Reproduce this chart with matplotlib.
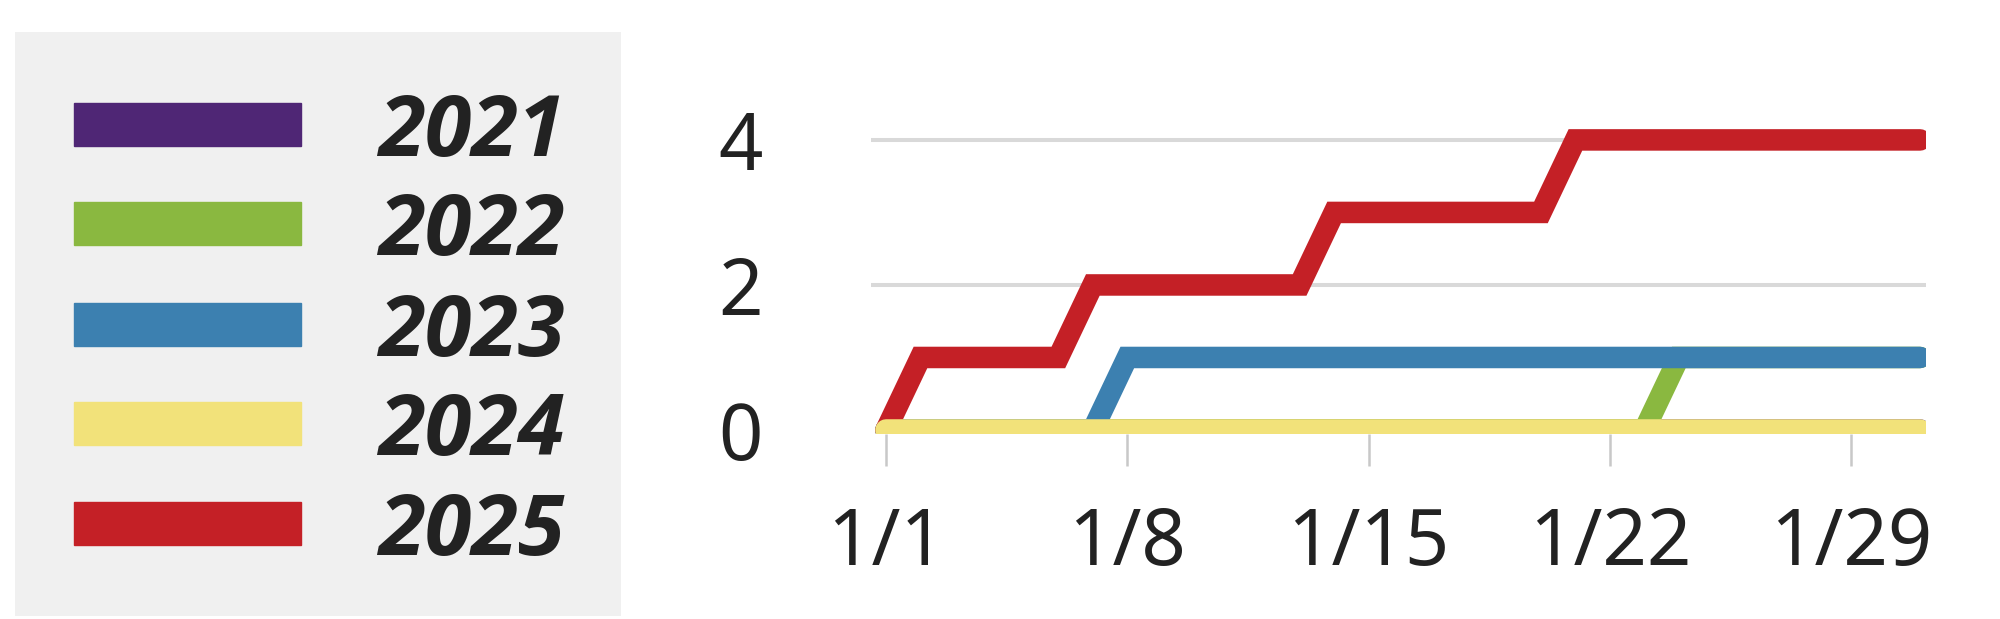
import matplotlib.pyplot as plt
from matplotlib.patches import Rectangle

plt.rcParams["font.family"] = ["Noto Sans", "DejaVu Sans"]

# day of January, 1..31
days = list(range(1, 32))

years = ["2021", "2022", "2023", "2024", "2025"]
colors = ["#4f2675", "#8ab840", "#3c80b0", "#f2e27a", "#c42026"]

# cumulative counts per day
y2021 = [0] * 31
y2022 = [0] * 23 + [1] * 8
y2023 = [0] * 7 + [1] * 24
y2024 = [0] * 31
y2025 = [0] + [1] * 5 + [2] * 7 + [3] * 7 + [4] * 11

series = dict(zip(years, [y2021, y2022, y2023, y2024, y2025]))

xticks = [1, 8, 15, 22, 29]
xtick_labels = ["1/1", "1/8", "1/15", "1/22", "1/29"]
yticks = [0, 2, 4]

fig = plt.figure(figsize=(20, 6.19), dpi=100)

# main plot
ax = fig.add_axes([0.4355, 0.2989, 0.5275, 0.5395])

# drawing order as in the picture: yellow on top, green under blue
order = ["2021", "2022", "2023", "2025", "2024"]
for yr in order:
    ax.plot(days, series[yr], color=colors[years.index(yr)], lw=15.5,
            solid_capstyle="round", solid_joinstyle="miter")

ax.set_xlim(0.565, 31.17)
ax.set_ylim(-0.055, 4.55)

for v in [2, 4]:
    ax.axhline(v, color="#d9d9d9", lw=2.9, zorder=0)

for s in ax.spines.values():
    s.set_visible(False)

ax.set_xticks(xticks)
ax.set_xticklabels(xtick_labels)
ax.set_yticks(yticks)
ax.tick_params(axis="x", length=23, width=1.8, color="#c8c8c8", pad=28,
               labelsize=56, labelcolor="#222222")
ax.tick_params(axis="y", length=0, pad=78, labelsize=56, labelcolor="#222222")

# legend box
lax = fig.add_axes([15 / 2000, 3 / 619, 606 / 2000, 584 / 619])
lax.set_facecolor("#f0f0f0")
lax.set_xlim(0, 606)
lax.set_ylim(584, 0)
lax.set_xticks([])
lax.set_yticks([])
for s in lax.spines.values():
    s.set_visible(False)

row_y = [92, 191, 292, 391, 491]
for yr, c, yy in zip(years, colors, row_y):
    lax.add_patch(Rectangle((59, yy - 21.5), 227, 43, color=c))
    lax.text(363, yy + 10, yr, fontsize=61, fontweight="bold", fontstyle="italic",
             family=["Open Sans", "DejaVu Sans"],
             color="#222222", va="center", ha="left")

fig.savefig("out.png", dpi=100)
